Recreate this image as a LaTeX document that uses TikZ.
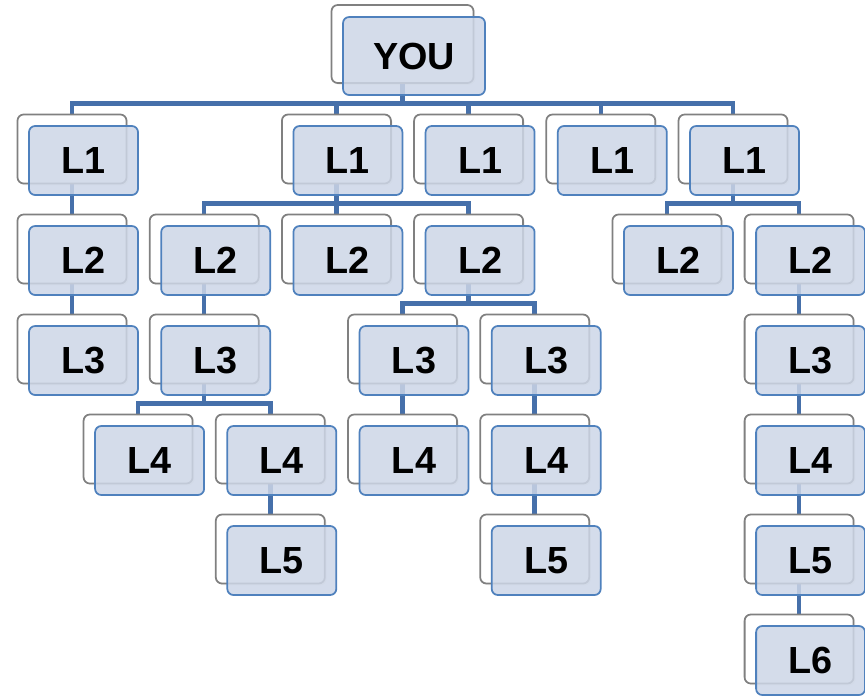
\documentclass[tikz,border=0pt]{standalone}
\usepackage{fontspec}
\setmainfont{Liberation Sans}
\usetikzlibrary{positioning,calc,backgrounds,shadows}
\definecolor{boxfill}{RGB}{205,214,231}
\definecolor{boxline}{RGB}{79,129,189}
\definecolor{linkblue}{RGB}{70,112,170}
\tikzset{
  backbox/.style={draw=black!50,line width=1pt,fill=white,rounded corners=3.5pt,
    minimum width=2.18cm,minimum height=1.38cm,
    drop shadow={shadow xshift=1pt,shadow yshift=-1pt,opacity=0.12}},
  frontbox/.style={draw=boxline,line width=1pt,fill=boxfill,fill opacity=0.85,
    text opacity=1,rounded corners=3.5pt,minimum width=2.18cm,minimum height=1.38cm,
    font=\fontsize{21.5}{21.5}\selectfont\bfseries},
  link/.style={draw=linkblue,line width=2.6pt}
}
% back box + front box, column and row on the grid
\newcommand{\boxpair}[4]{%
  \node[backbox] (#1-bk) at ({83.5+66.1*#2-11.5},{160.5+100*#3-11.5}) {};
  \node[frontbox] (#1) at ({83.5+66.1*#2},{160.5+100*#3}) {#4};
}
% parent -> child by the back boxes
\newcommand{\joint}[2]{%
  \draw[link] (#1-bk.center) |- ([yshift=0.2cm]#2-bk.north) -- (#2-bk.center);
}

\begin{document}
\begin{tikzpicture}[x=0.02cm,y=-0.02cm]
\useasboundingbox (0,0) rectangle (865,697);

\node[backbox,minimum width=2.84cm,minimum height=1.56cm] (you-bk) at (402.5,44) {};
\node[frontbox,minimum width=2.84cm,minimum height=1.56cm] (you) at (414,56) {YOU};

% level 1
\boxpair{a}{0}{0}{L1}
\boxpair{b}{4}{0}{L1}
\boxpair{c}{6}{0}{L1}
\boxpair{d}{8}{0}{L1}
\boxpair{e}{10}{0}{L1}
% level 2
\boxpair{aa}{0}{1}{L2}
\boxpair{ba}{2}{1}{L2}
\boxpair{bb}{4}{1}{L2}
\boxpair{bc}{6}{1}{L2}
\boxpair{ea}{9}{1}{L2}
\boxpair{eb}{11}{1}{L2}
% level 3
\boxpair{aaa}{0}{2}{L3}
\boxpair{baa}{2}{2}{L3}
\boxpair{bca}{5}{2}{L3}
\boxpair{bcb}{7}{2}{L3}
\boxpair{eba}{11}{2}{L3}
% level 4
\boxpair{baaa}{1}{3}{L4}
\boxpair{baab}{3}{3}{L4}
\boxpair{bcaa}{5}{3}{L4}
\boxpair{bcba}{7}{3}{L4}
\boxpair{ebaa}{11}{3}{L4}
% level 5 and 6
\boxpair{baaba}{3}{4}{L5}
\boxpair{bcbaa}{7}{4}{L5}
\boxpair{ebaaa}{11}{4}{L5}
\boxpair{ebaaaa}{11}{5}{L6}

\begin{pgfonlayer}{background}
\foreach \c in {a,b,c,d,e} {\joint{you}{\c}}
\joint{a}{aa}
\joint{aa}{aaa}
\foreach \c in {ba,bb,bc} {\joint{b}{\c}}
\joint{ba}{baa}
\joint{baa}{baaa}
\joint{baa}{baab}
\joint{baab}{baaba}
\joint{bc}{bca}
\joint{bc}{bcb}
\joint{bca}{bcaa}
\joint{bcb}{bcba}
\joint{bcba}{bcbaa}
\joint{e}{ea}
\joint{e}{eb}
\joint{eb}{eba}
\joint{eba}{ebaa}
\joint{ebaa}{ebaaa}
\joint{ebaaa}{ebaaaa}
\end{pgfonlayer}
\end{tikzpicture}
\end{document}
